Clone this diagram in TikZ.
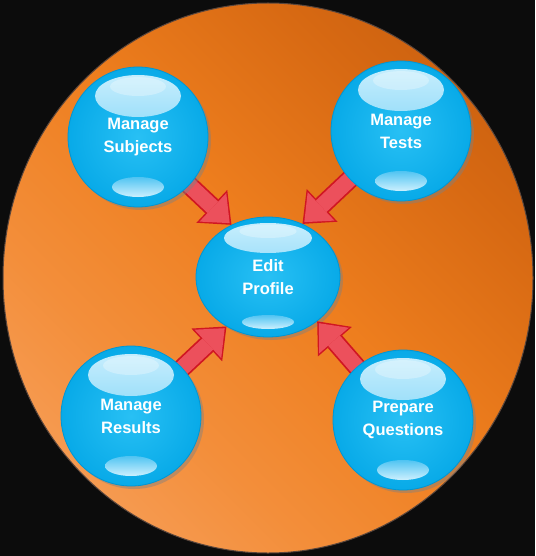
\documentclass[tikz,border=0pt]{standalone}
\usepackage{fontspec}
\setmainfont{Liberation Sans}
\usetikzlibrary{shapes.geometric,shadows,arrows.meta}
\pgfdeclarelayer{base}
\pgfdeclarelayer{mid}
\pgfsetlayers{base,mid,main}
\definecolor{bgblack}{RGB}{12,12,12}
\definecolor{orangedark}{RGB}{192,90,14}
\definecolor{orangedeep}{RGB}{214,104,18}
\definecolor{orangemid}{RGB}{238,126,30}
\definecolor{orangesoft}{RGB}{243,142,58}
\definecolor{orangelight}{RGB}{248,166,102}
\definecolor{orangerim}{RGB}{90,70,60}
\definecolor{bluein}{RGB}{40,192,244}
\definecolor{blueout}{RGB}{8,170,232}
\definecolor{blueedge}{RGB}{0,150,212}
\definecolor{glosstop}{RGB}{205,240,254}
\definecolor{glossbot}{RGB}{80,196,242}
\definecolor{arrowred}{RGB}{236,80,92}
\definecolor{arrowdark}{RGB}{208,22,34}
\pgfdeclareverticalshading{orangeglow}{100bp}{color(0bp)=(orangelight); color(15bp)=(orangelight);
  color(35bp)=(orangesoft); color(52bp)=(orangemid); color(70bp)=(orangedeep);
  color(86bp)=(orangedark); color(100bp)=(orangedark)}

\begin{document}
\begin{tikzpicture}[x=1pt,y=-1pt,
    bubble/.style={circle,minimum size=140pt,inner sep=0pt,
      shading=radial,inner color=bluein,outer color=blueout,draw=blueedge,line width=0.8pt,
      drop shadow={shadow xshift=3pt,shadow yshift=-3pt,opacity=0.45},
      text=white,font=\fontsize{16.5}{23}\selectfont\bfseries,align=center},
    gloss/.style n args={6}{path picture={
      \shade[top color=glosstop,bottom color=glossbot]
        ([yshift=#1pt]path picture bounding box.center) ellipse [x radius=#2pt,y radius=#3pt];
      \fill[white,opacity=0.3]
        ([yshift=#1pt]path picture bounding box.center) ++(0,{-0.45*#3}) ellipse [x radius={0.65*#2pt},y radius={0.45*#3pt}];
      \shade[top color=glossbot,bottom color=glosstop]
        ([yshift=-#4pt]path picture bounding box.center) ellipse [x radius=#5pt,y radius=#6pt];}},
    outer/.style={bubble,gloss={41}{43}{21}{50}{26}{10}},
    arrowedge/.style={draw=arrowdark,line width=19pt,shorten <=-12pt,
      -{Triangle[length=27pt,width=45pt,line width=0pt 0 0]}},
    arrowfill/.style={draw=arrowred,line width=15.5pt,shorten <=-12pt,shorten >=2.5pt,
      -{Triangle[length=23pt,width=39pt,line width=0pt 0 0]}}]
  \useasboundingbox (0,0) rectangle (535,556);
  \begin{pgfonlayer}{base} % backdrop and centre
    \fill[bgblack] (0,0) rectangle (535,556);
    \shadedraw[draw=orangerim,line width=1pt,shading=orangeglow,shading angle=-45]
      (268,278) ellipse [x radius=265pt,y radius=275pt];
    \node[bubble,ellipse,minimum width=144pt,minimum height=120pt,gloss={39}{44}{15}{45}{26}{7}]
      (prof) at (268,277) {Edit\\Profile};
  \end{pgfonlayer}
  \node[outer] (subj) at (138,137) {Manage\\Subjects};
  \node[outer] (tests) at (401,131) {Manage\\Tests};
  \node[outer] (res) at (131,416) {Manage\\Results};
  \node[outer] (quest) at (403,420) {Prepare\\Questions};
  \begin{pgfonlayer}{mid} % arrows into the centre
    \foreach \from/\to in {subj/125,tests/57,res/230,quest/-42}{
      \draw[arrowedge] (\from) -- (prof.\to);
      \draw[arrowfill] (\from) -- (prof.\to);
    }
  \end{pgfonlayer}
\end{tikzpicture}
\end{document}
